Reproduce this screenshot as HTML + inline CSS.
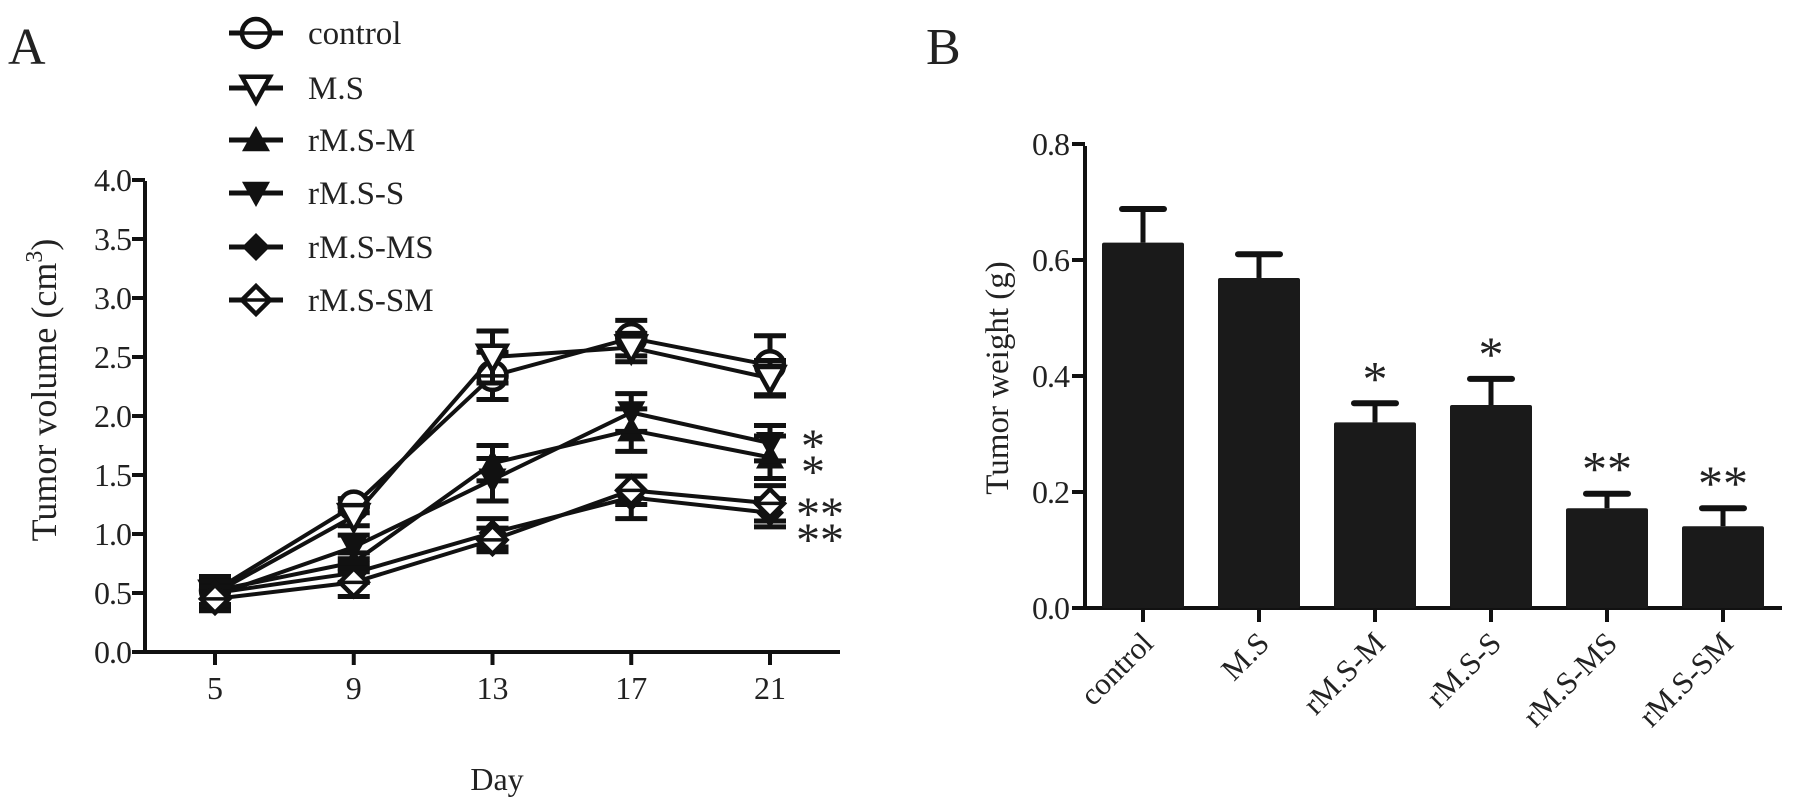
<!DOCTYPE html>
<html><head><meta charset="utf-8"><style>
body{margin:0;background:#fff}
svg{display:block;font-family:"Liberation Serif",serif;fill:#222}
</style></head><body>
<svg id="s" width="1795" height="804" viewBox="0 0 1795 804" xmlns="http://www.w3.org/2000/svg">
<text x="8" y="64" font-size="52">A</text>
<text x="926" y="64" font-size="52">B</text>
<g id="pa"></g>
<g id="pb"></g>
</svg>
<script>
const days = [5, 9, 13, 17, 21];
const yTicksA = ["0.0","0.5","1.0","1.5","2.0","2.5","3.0","3.5","4.0"];
const seriesNames = ["control","M.S","rM.S-M","rM.S-S","rM.S-MS","rM.S-SM"];
const controlVals = [0.52, 1.24, 2.34, 2.66, 2.43];
const msVals = [0.50, 1.15, 2.50, 2.58, 2.32];
const rmsmVals = [0.52, 0.76, 1.60, 1.88, 1.65];
const rmssVals = [0.48, 0.89, 1.46, 2.03, 1.77];
const rmsmsVals = [0.50, 0.67, 1.01, 1.31, 1.18];
const rmssmVals = [0.45, 0.59, 0.95, 1.37, 1.26];
const controlErr = [0.12, 0.06, 0.2, 0.15, 0.25];
const msErr = [0.1, 0.08, 0.22, 0.12, 0.15];
const rmsmErr = [0.12, 0.08, 0.15, 0.18, 0.18];
const rmssErr = [0.1, 0.1, 0.18, 0.16, 0.15];
const rmsmsErr = [0.1, 0.08, 0.12, 0.18, 0.12];
const rmssmErr = [0.1, 0.12, 0.1, 0.12, 0.15];
const barCats = ["control","M.S","rM.S-M","rM.S-S","rM.S-MS","rM.S-SM"];
const barVals = [0.63, 0.569, 0.32, 0.35, 0.172, 0.141];
const barErr = [0.058, 0.041, 0.033, 0.045, 0.025, 0.031];
const barSig = ["", "", "*", "*", "**", "**"];
const yTicksB = ["0.0","0.2","0.4","0.6","0.8"];

const NS="http://www.w3.org/2000/svg";
function mk(p,t,a){const e=document.createElementNS(NS,t);for(const k in a)e.setAttribute(k,a[k]);p.appendChild(e);return e;}
const pa=document.getElementById('pa'), pb=document.getElementById('pb');
const xA=d=>215+(d-5)*(770-215)/16, yA=v=>652-v*118;
let ax=mk(pa,'path',{d:`M145 181V652H840`,stroke:'#111','stroke-width':4,fill:'none'});

yTicksA.forEach(t=>{const v=+t;const y=yA(v);
 mk(pa,'line',{x1:132,x2:145,y1:y,y2:y,stroke:'#111','stroke-width':4});
 const tx=mk(pa,'text',{x:131,y:y+11,'font-size':32,'text-anchor':'end','letter-spacing':'-1'});tx.textContent=t;
 });
days.forEach(d=>{const x=xA(d);
 mk(pa,'line',{x1:x,x2:x,y1:652,y2:665,stroke:'#111','stroke-width':4});
 const tx=mk(pa,'text',{x:x,y:699,'font-size':32,'text-anchor':'middle'});tx.textContent=d;
 });
let t=mk(pa,'text',{x:497,y:790,'font-size':32,'text-anchor':'middle'});t.textContent='Day';

t=mk(pa,'text',{transform:'translate(56,390) rotate(-90)','font-size':36,'text-anchor':'middle'});
t.innerHTML='Tumor volume (cm<tspan dy="-14" font-size="24">3</tspan><tspan dy="14">)</tspan>';


function marker(g,kind,x,y,r){
 if(kind==0){mk(g,'circle',{cx:x,cy:y,r:r,fill:'#fff',stroke:'#111','stroke-width':4.5});mk(g,'line',{x1:x-r,x2:x+r,y1:y,y2:y,stroke:'#111','stroke-width':3.5});}
 else if(kind==1){mk(g,'polygon',{points:`${x-r},${y-r*0.8} ${x+r},${y-r*0.8} ${x},${y+r}`,fill:'#fff',stroke:'#111','stroke-width':4.5});}
 else if(kind==2){mk(g,'polygon',{points:`${x-r},${y+r*0.8} ${x+r},${y+r*0.8} ${x},${y-r}`,fill:'#111'});}
 else if(kind==3){mk(g,'polygon',{points:`${x-r},${y-r*0.8} ${x+r},${y-r*0.8} ${x},${y+r}`,fill:'#111'});}
 else if(kind==4){mk(g,'polygon',{points:`${x-r},${y} ${x},${y-r} ${x+r},${y} ${x},${y+r}`,fill:'#111'});}
 else {mk(g,'polygon',{points:`${x-r},${y} ${x},${y-r} ${x+r},${y} ${x},${y+r}`,fill:'#fff',stroke:'#111','stroke-width':4.5});mk(g,'line',{x1:x-r,x2:x+r,y1:y,y2:y,stroke:'#111','stroke-width':3.5});}
}
const allVals=[controlVals,msVals,rmsmVals,rmssVals,rmsmsVals,rmssmVals];
const allErr=[controlErr,msErr,rmsmErr,rmssErr,rmsmsErr,rmssmErr];
allVals.forEach((vals,si)=>{
 const g=mk(pa,'g',{});
 
 
 mk(g,'polyline',{points:vals.map((v,i)=>xA(days[i])+','+yA(v)).join(' '),fill:'none',stroke:'#111','stroke-width':4});
 vals.forEach((v,i)=>{const x=xA(days[i]),e=allErr[si][i];
  mk(g,'path',{d:`M${x} ${yA(v-e)}V${yA(v+e)}M${x-16} ${yA(v+e)}H${x+16}M${x-16} ${yA(v-e)}H${x+16}`,stroke:'#111','stroke-width':5,fill:'none'});
  marker(g,si,x,yA(v),14);});
});
const legY=[33,88,140,193,247,300];
seriesNames.forEach((n,i)=>{const g=mk(pa,'g',{});
 
 mk(g,'line',{x1:229,x2:283,y1:legY[i],y2:legY[i],stroke:'#111','stroke-width':5});
 marker(g,i,256,legY[i],14);
 const tx=mk(g,'text',{x:308,y:legY[i]+11,'font-size':33});tx.textContent=n;});
[[813,462,'*'],[813,488,'*'],[820,530,'**'],[820,556,'**']].forEach(a=>{
 const tx=mk(pa,'text',{x:a[0],y:a[1],'font-size':48,'text-anchor':'middle'});tx.textContent=a[2];
 });

const xB=i=>1143+i*116, yB=v=>608-v*580;
ax=mk(pb,'path',{d:`M1085 146V608H1782`,stroke:'#111','stroke-width':4,fill:'none'});

yTicksB.forEach(tk=>{const y=yB(+tk);
 mk(pb,'line',{x1:1072,x2:1085,y1:y,y2:y,stroke:'#111','stroke-width':4});
 const tx=mk(pb,'text',{x:1069,y:y+11,'font-size':32,'text-anchor':'end','letter-spacing':'-1'});tx.textContent=tk;
 });
t=mk(pb,'text',{transform:'translate(1008,378) rotate(-90)','font-size':33,'text-anchor':'middle'});t.textContent='Tumor weight (g)';

barCats.forEach((c,i)=>{const x=xB(i),v=barVals[i],e=barErr[i];
 const g=mk(pb,'g',{});
 
 mk(g,'line',{x1:x,x2:x,y1:yB(v),y2:yB(v+e),stroke:'#111','stroke-width':5});
 mk(g,'line',{x1:x-21,x2:x+21,y1:yB(v+e),y2:yB(v+e),stroke:'#111','stroke-width':6,'stroke-linecap':'round'});
 mk(g,'rect',{x:x-41,y:yB(v),width:82,height:608-yB(v),fill:'#1a1a1a',rx:2});
 mk(pb,'line',{x1:x,x2:x,y1:608,y2:622,stroke:'#111','stroke-width':4});
 const tx=mk(pb,'text',{transform:`translate(${x+12},645) rotate(-45)`,'font-size':31,'text-anchor':'end'});tx.textContent=c;
 
 if(barSig[i]){const s=mk(pb,'text',{x:x,y:yB(v+e)-8,'font-size':50,'text-anchor':'middle'});s.textContent=barSig[i];
  }
});
</script>
</body></html>
